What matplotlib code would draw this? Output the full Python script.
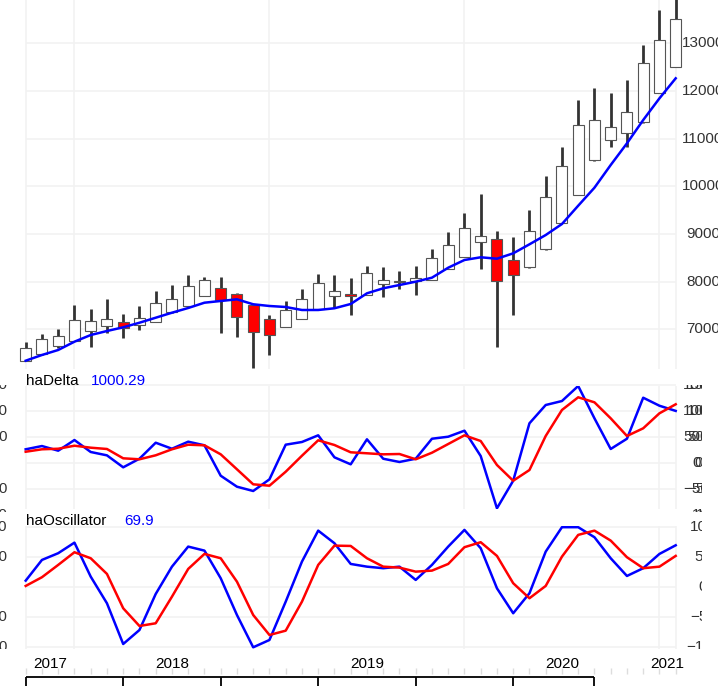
import matplotlib
matplotlib.use('Agg')
import matplotlib.pyplot as plt
from matplotlib.transforms import Bbox, blended_transform_factory

plt.rcParams['font.family'] = ['Liberation Sans', 'DejaVu Sans']

W, H = 718, 686

# monthly Heikin-Ashi bars, Oct 2017 .. Feb 2021
years = ['2017', '2018', '2019', '2020', '2021']
year_start = [0, 3, 15, 27, 39]
n_bars = 41

ha_open = [6341, 6482, 6640, 6755, 6971, 7076, 7147, 7084, 7160, 7357,
           7489, 7699, 7860, 7734, 7503, 7216, 7048, 7216, 7420, 7692,
           7747, 7720, 7950, 7989, 8020, 8034, 8271, 8523, 8832, 8895,
           8454, 8301, 8678, 9230, 9818, 10546, 10978, 11112, 11343, 11964,
           12509]
ha_close = [6614, 6797, 6866, 7189, 7174, 7210, 7021, 7243, 7558, 7629,
            7908, 8028, 7608, 7264, 6950, 6887, 7405, 7629, 7965, 7797,
            7705, 8175, 8028, 8003, 8083, 8502, 8775, 9132, 8957, 8007,
            8139, 9056, 9782, 10420, 11293, 11397, 11238, 11559, 12593, 13063,
            13510]
ha_high = [6727, 6902, 7000, 7504, 7426, 7629, 7315, 7489, 7803, 7929,
           8133, 8097, 8097, 7755, 7503, 7300, 7594, 7839, 8160, 8146,
           8076, 8322, 8301, 8229, 8322, 8691, 9035, 9434, 9832, 9062,
           8943, 9509, 10210, 10831, 11817, 12056, 11951, 12224, 12965, 13705,
           13950]
ha_low = [6330, 6470, 6601, 6745, 6635, 6916, 6811, 6985, 7150, 7350,
          7480, 7690, 6929, 6832, 6194, 6461, 7040, 7210, 7410, 7441,
          7300, 7715, 7671, 7852, 7713, 8030, 8265, 8515, 8271, 6635,
          7294, 8295, 8670, 9220, 9810, 10530, 10818, 10831, 11335, 11955,
          12500]
ma = [6341, 6461, 6566, 6740, 6880, 6964, 7042, 7138, 7243, 7348,
      7447, 7558, 7594, 7629, 7525, 7489, 7468, 7405, 7405, 7441,
      7531, 7755, 7860, 7929, 7999, 8083, 8292, 8454, 8511, 8481,
      8594, 8783, 8978, 9209, 9593, 9971, 10447, 10902, 11391, 11846,
      12266]

ha_delta = [259, 322, 232, 438, 207, 142, -89, 77, 386, 270,
            406, 336, -251, -463, -546, -321, 348, 400, 529, 104,
            -31, 452, 77, 14, 77, 463, 502, 618, 129, -880,
            -348, 761, 1114, 1191, 1481, 857, 265, 463, 1255, 1100,
            1000.29]
ha_delta_sig = [212, 259, 270, 328, 290, 265, 85, 66, 143, 259,
                348, 336, 162, -127, -417, -444, -174, 135, 433, 342,
                201, 182, 162, 168, 66, 193, 361, 529, 419, -44,
                -348, -141, 516, 1018, 1263, 1166, 857, 516, 664, 954,
                1128]
ha_osc = [11, 45.5, 56.7, 74.3, 17.7, -26.7, -94.5, -71.2, -11.2, 34.3,
          67.7, 61, 15, -46.2, -100, -87.8, -24, 42.7, 94.3, 73.3,
          38.8, 34.3, 31.7, 34.3, 12.2, 37.2, 67.7, 95.5, 65, -1.7,
          -43.3, -10, 59.3, 100, 100, 83.3, 48.3, 18.8, 31.7, 55.5,
          69.9]
ha_osc_sig = [2.2, 16.7, 37.2, 58.3, 48.3, 22.2, -35, -64.5, -60, -15.7,
              30.5, 55.5, 48.3, 9.3, -46.2, -79.5, -72.3, -24, 37.2, 69.3,
              68.8, 48.3, 34.3, 32.7, 26, 27.7, 38.8, 66.7, 75, 52.2,
              6.7, -18.3, 2.2, 51, 87.2, 94.3, 77.7, 50, 31.7, 34.3,
              52.2]

price_ticks = [7000, 8000, 9000, 10000, 11000, 12000, 13000]
delta_ticks = [-1000, -500, 0, 500, 1000, 1500]
osc_ticks = [-100, -50, 0, 50, 100]
axis_ticks = [0, 6, 12, 18, 24, 30, 35]

GRID = '#F2F2F2'
TXT = '#333333'
BLUE = '#0000FF'
RED = '#FF0000'

x = list(range(n_bars))
vgrid = [0] + year_start[1:] + [n_bars - 1]
xlim = (-25.7 / 16.25, (W - 25.7) / 16.25)

fig = plt.figure(figsize=(W / 100, H / 100), dpi=100)


def panel(top, bottom, ylim):
    ax = fig.add_axes([0, 1 - bottom / H, 1, (bottom - top) / H])
    ax.set_xlim(*xlim)
    ax.set_ylim(*ylim)
    ax.axis('off')
    return ax


def grid(ax, ticks, ylim, extra=None):
    lv = [t for t in ticks if ylim[0] <= t <= ylim[1]]
    ax.hlines(lv, 0, n_bars - 1, color=GRID, lw=1.2, zorder=0)
    if extra is not None:
        ax.hlines([extra], 0, n_bars - 1, color=GRID, lw=1.2, zorder=0, clip_on=False)
    ax.vlines(vgrid, ylim[0], ylim[1], color=GRID, lw=1.2, zorder=0)


def clipped(ax, xpx, val, s, ha, top, bottom):
    tr = blended_transform_factory(ax.transAxes, ax.transData)
    t = ax.text(xpx / W, val, s, transform=tr, ha=ha, va='center',
                fontsize=11, color=TXT)
    t.set_clip_box(Bbox.from_extents(-200, H - bottom, 702, H - top))
    t.set_clip_on(True)


# price panel
main_ylim = (6167, 13909)
ax1 = panel(0, 369, main_ylim)
grid(ax1, price_ticks, main_ylim)
ax1.vlines(x, ha_low, ha_high, color='#333333', lw=2.0, zorder=2)
up = [c >= o for o, c in zip(ha_open, ha_close)]
ax1.bar(x, [abs(c - o) for o, c in zip(ha_open, ha_close)],
        bottom=[min(o, c) for o, c in zip(ha_open, ha_close)], width=0.68,
        color=['white' if u else RED for u in up], edgecolor='#555555',
        linewidth=0.8, zorder=3)
ax1.plot(x, ma, color=BLUE, lw=1.8, zorder=4)
tr1 = blended_transform_factory(ax1.transAxes, ax1.transData)
for p in price_ticks:
    ax1.text(703 / W, p, str(p), transform=tr1, ha='center', va='center',
             fontsize=11, color=TXT)

# haDelta panel
d_ylim = (-884, 1481)
ax2 = panel(386, 508.5, d_ylim)
grid(ax2, delta_ticks, d_ylim, extra=1500)
ax2.plot(x, ha_delta, color=BLUE, lw=1.8)
ax2.plot(x, ha_delta_sig, color=RED, lw=1.8)
for v in delta_ticks:
    s = str(v).replace('-', '\u2212')
    if v != 0:
        clipped(ax2, 7.5, v, s, 'right', 385, 512)
        clipped(ax2, 683, v, s, 'left', 385, 512)
        clipped(ax2, 687, v, s, 'left', 385, 512)
    else:
        clipped(ax2, 692, v, s, 'left', 385, 512)
        clipped(ax2, 694.5, v, s, 'left', 385, 512)
fig.text(25.7 / W, 1 - 385 / H, 'haDelta', fontsize=11, color='black', va='baseline')
fig.text(90.7 / W, 1 - 385 / H, '%.2f' % ha_delta[-1], fontsize=11, color=BLUE, va='baseline')

# haOscillator panel
o_ylim = (-102, 102)
ax3 = panel(526, 648.5, o_ylim)
grid(ax3, osc_ticks, o_ylim)
ax3.plot(x, ha_osc, color=BLUE, lw=1.8)
ax3.plot(x, ha_osc_sig, color=RED, lw=1.8)
for v in osc_ticks:
    s = str(v).replace('-', '\u2212')
    if v != 0:
        clipped(ax3, 7.5, v, s, 'right', 520, 648.5)
    clipped(ax3, 703, v, s, 'center', 520, 648.5)
fig.text(25.7 / W, 1 - 525 / H, 'haOscillator', fontsize=11, color='black', va='baseline')
fig.text(124.3 / W, 1 - 525 / H, '%.1f' % ha_osc[-1], fontsize=11, color=BLUE, va='baseline')

# time axis
ax4 = panel(648.5, H, (H, 648.5))
ax4.vlines(x, 668, 674, color='#DDDDDD', lw=1)
ax4.hlines([676.5], axis_ticks[0], axis_ticks[-1], color='black', lw=1.3)
ax4.vlines(axis_ticks, 676.5, H, color='black', lw=1.3)
ends = year_start[1:] + [n_bars - 1]
for yr, a, b in zip(years, year_start, ends):
    ax4.text((a + b) / 2, 667.7, yr, ha='center', va='baseline', fontsize=11, color='black')

fig.savefig('out.png', dpi=100)
